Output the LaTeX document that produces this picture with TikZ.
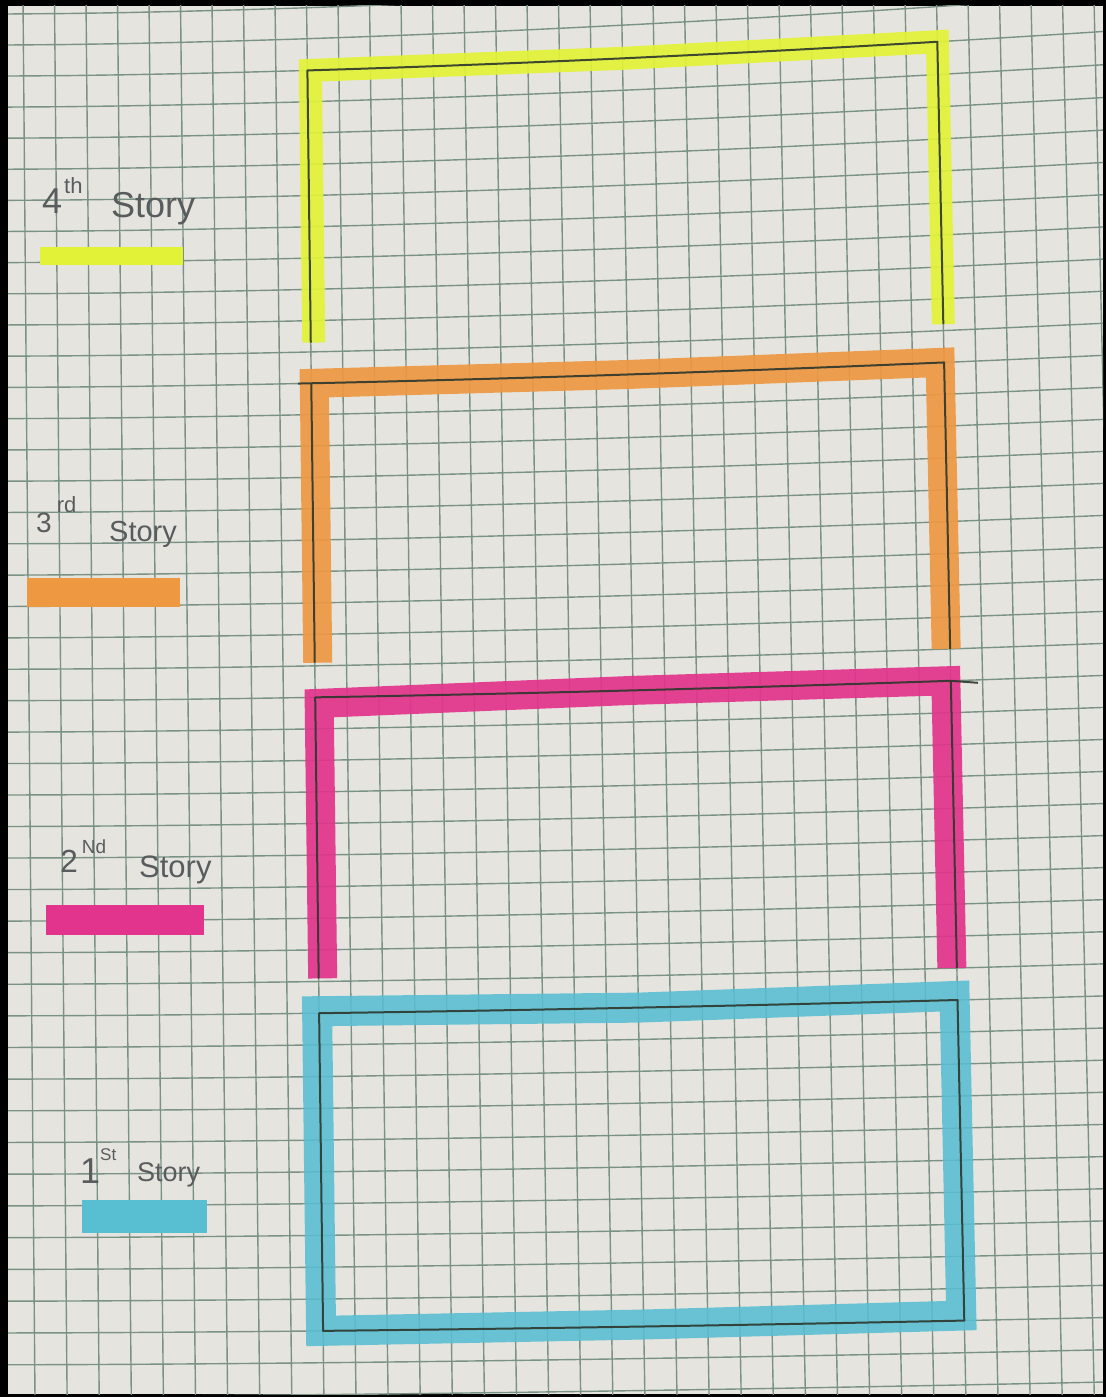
\documentclass[tikz,border=0pt]{standalone}
\usepackage{fontspec}
\setmainfont{Liberation Sans}
\definecolor{paper}{RGB}{230,228,223}
\definecolor{gridc}{RGB}{122,146,134}
\definecolor{pencilc}{RGB}{45,55,45}
\definecolor{handc}{RGB}{88,92,92}
\definecolor{ylw}{RGB}{226,243,55}
\definecolor{org}{RGB}{238,152,66}
\definecolor{pnk}{RGB}{226,52,140}
\definecolor{cyn}{RGB}{88,190,210}
\newcommand\gridpt[3]{%
  \pgfmathsetmacro\gpx{gx(#1,yl(#2))}%
  \pgfmathsetmacro\gpy{gy(#2,\gpx)}%
  \pgfmathsetmacro\gpx{gx(#1,\gpy)}%
  \coordinate (#3) at (\gpx,\gpy);}
\begin{document}
\begin{tikzpicture}[x=1pt,y=-1pt,
  declare function={
    gx(\p,\q)=23+31.5*\p+(12+0.6*\p)*(\q/1397);
    yl(\q)=45+31.02*\q+0.0096*\q*\q;
    dr(\q)=-50+35*sqrt(max(\q,0)/42);
    sh(\p)=pow(max((\p-8)/1096,0.001),1.6);
    gy(\q,\p)=yl(\q)+dr(\q)*sh(\p);
  },
  gridln/.style={draw=gridc, line width=1.4pt},
  band/.style={line width=28pt, line join=miter, line cap=butt, opacity=0.92},
  pencilln/.style={draw=pencilc, line width=2pt, opacity=0.9, line join=round},
  hand/.style={text=handc, inner sep=0pt, anchor=base west}]
\useasboundingbox (0,0) rectangle (1106,1397);
\fill[black] (0,0) rectangle (1106,1397);
\fill[paper] (8,6) rectangle (1103,1394);
% grid paper
\begin{scope}
  \clip (8,6) rectangle (1103,1394);
  \foreach \k in {0,...,34}
    \draw[gridln] ({gx(\k,0)},0) -- ({gx(\k,1397)},1397);
  \foreach \j in {-1,...,43}
    \draw[gridln] plot[domain=8:1103, samples=20] (\x,{gy(\j,\x)});
\end{scope}
% grid points of the plan
\gridpt{9}{1}{y1}  \gridpt{19}{1}{y12} \gridpt{29}{1}{y2}
\gridpt{9}{9.7}{y1b} \gridpt{29}{9.8}{y2b}
\gridpt{9}{11}{o1} \gridpt{19}{11}{o12} \gridpt{29}{11}{o2}
\gridpt{9}{19.9}{o1b} \gridpt{29}{20}{o2b}
\gridpt{9}{21}{p1} \gridpt{19}{21}{p12} \gridpt{29}{21}{p2}
\gridpt{9}{29.9}{p1b} \gridpt{29}{30}{p2b}
\gridpt{9}{31}{c1} \gridpt{19}{31}{c12} \gridpt{29}{31}{c2}
\gridpt{29}{41}{c3} \gridpt{19}{41}{c34} \gridpt{9}{41}{c4}
% marker bands
\draw[band, draw=ylw, line width=23pt] ([shift={(3,0)}]y1b) -- ([shift={(3,0)}]y1) -- (y12) -- (y2) -- (y2b);
\draw[band, draw=org, line width=29pt] ([shift={(3,0)}]o1b) -- ([shift={(3,0)}]o1) -- (o12) -- ([shift={(-4,0)}]o2) -- ([shift={(-4,0)}]o2b);
\draw[band, draw=pnk, line width=29pt] ([shift={(4,0)}]p1b) -- ([shift={(4,6)}]p1) -- (p12) -- ([shift={(-5,0)}]p2) -- ([shift={(-5,0)}]p2b);
\draw[band, draw=cyn, line width=30pt, opacity=0.88] ([shift={(-2,-2)}]c1) -- (c12) -- ([shift={(-3,-4)}]c2) -- ([shift={(-3,-5)}]c3) -- ([shift={(0,-2)}]c34) -- ([shift={(-2,0)}]c4) -- cycle;
% pencil lines, traced along the grid
\draw[pencilln] (y1b) -- plot[domain=307.4:937.3, samples=15] (\x,{gy(1,\x)}) -- (y2b);
\draw[pencilln] plot[domain=298:944.1, samples=15] (\x,{gy(11,\x)}) -- (o2b);
\draw[pencilln] (o1) -- (o1b);
\draw[pencilln] (p1b) -- plot[domain=315.2:950.8, samples=15] (\x,{gy(21,\x)}) -- ++(27,2);
\draw[pencilln] (p2) -- (p2b);
\draw[pencilln] (c1) -- plot[domain=319.1:957.5, samples=15] (\x,{gy(31,\x)}) -- (c3) -- plot[domain=964.3:323.1, samples=15] (\x,{gy(41,\x)}) -- cycle;
% legend
\node[hand, font=\fontsize{36}{36}\selectfont] (n4) at (42,213) {4\hspace{2pt}\raisebox{20pt}{\fontsize{22}{22}\selectfont th}};
\node[hand, font=\fontsize{36}{36}\selectfont] (s4) at (111,217) {Story};
\fill[ylw] (40,247) rectangle (183,265);
\node[hand, font=\fontsize{28}{28}\selectfont] (n3) at (36,532) {3\hspace{5pt}\raisebox{20pt}{\fontsize{22}{22}\selectfont rd}};
\node[hand, font=\fontsize{29}{29}\selectfont] (s3) at (109,541) {Story};
\fill[org] (27,578) rectangle (180,607);
\node[hand, font=\fontsize{32}{32}\selectfont] (n2) at (60,872) {2\hspace{4pt}\raisebox{19pt}{\fontsize{19}{19}\selectfont Nd}};
\node[hand, font=\fontsize{31}{31}\selectfont] (s2) at (139,877) {Story};
\fill[pnk] (46,905) rectangle (204,935);
\node[hand, font=\fontsize{36}{36}\selectfont] (n1) at (80,1183) {1\raisebox{23pt}{\fontsize{17}{17}\selectfont St}};
\node[hand, font=\fontsize{27}{27}\selectfont] (s1) at (137,1181) {Story};
\fill[cyn] (82,1200) rectangle (207,1233);
\end{tikzpicture}
\end{document}
